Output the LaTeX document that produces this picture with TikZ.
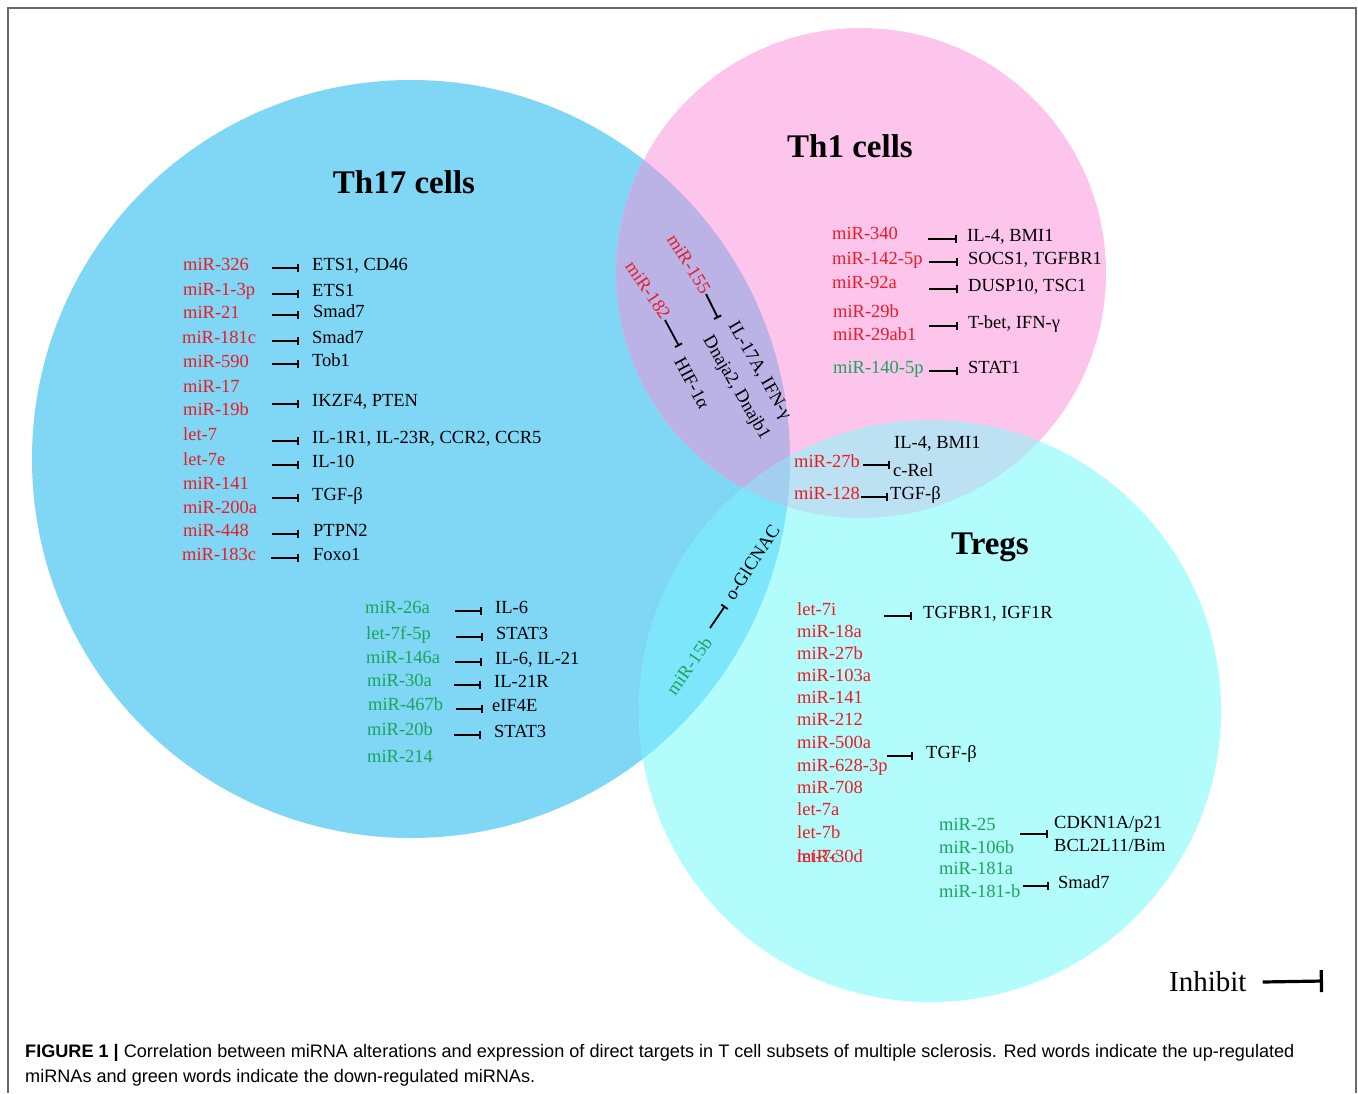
\documentclass[tikz,border=0pt]{standalone}
\usepackage{fontspec}
\setmainfont{Liberation Serif}
\setsansfont{Liberation Sans}
\usetikzlibrary{arrows.meta}
\definecolor{cA}{HTML}{7FD6F5}
\definecolor{cB}{HTML}{FDC4EC}
\definecolor{cC}{HTML}{B2FCFC}
\definecolor{cAB}{HTML}{BBB2E6}
\definecolor{cBC}{HTML}{BBE1F2}
\definecolor{cAC}{HTML}{7DE6FA}
\definecolor{cABC}{HTML}{A3CFEF}
\definecolor{mred}{HTML}{EC1C24}
\definecolor{mgreen}{HTML}{1BA55C}
\definecolor{framec}{HTML}{6A6A6A}
\newcommand\lbl{\fontsize{18.5}{20}\selectfont}
\newcommand\ttl{\fontsize{33}{36}\selectfont\bfseries}
\newcommand\inhto[3]{\draw[inh] ([xshift=-#2pt]#1.mid west) -- ([xshift=-#3pt]#1.mid west);}
\begin{document}
\begin{tikzpicture}[x=1pt,y=-1pt,
  mir/.style={anchor=base west, yshift=-6pt, inner sep=0pt, text=mred, font=\lbl},
  mirg/.style={mir, text=mgreen},
  tgt/.style={anchor=base west, yshift=-6pt, inner sep=0pt, text=black, font=\lbl},
  rot/.style={anchor=center, inner sep=0pt, font=\lbl},
  inh/.style={line width=1.8pt, -{Bar[width=8pt]}},
  title/.style={anchor=base, inner sep=0pt, font=\ttl}]
\useasboundingbox (0,0) rectangle (1358,1093);
\fill[white] (0,0) rectangle (1358,1093);
\draw[framec, line width=1.5pt] (8,1093) -- (8,8) -- (1356,8) -- (1356,1093);
% circles
\coordinate (oA) at (411,459);
\coordinate (oB) at (861,273);
\coordinate (oC) at (930,711);
\fill[cA] (oA) circle[radius=379pt];
\fill[cB] (oB) circle[radius=245pt];
\fill[cC] (oC) circle[radius=291pt];
\begin{scope}\clip (oA) circle[radius=379pt]; \fill[cAB] (oB) circle[radius=245pt]; \end{scope}
\begin{scope}\clip (oB) circle[radius=245pt]; \fill[cBC] (oC) circle[radius=291pt]; \end{scope}
\begin{scope}\clip (oA) circle[radius=379pt]; \fill[cAC] (oC) circle[radius=291pt]; \end{scope}
\begin{scope}\clip (oA) circle[radius=379pt]; \clip (oB) circle[radius=245pt]; \fill[cABC] (oC) circle[radius=291pt]; \end{scope}
% titles
\node[title] (tTh17) at (404,193) {Th17 cells};
\node[title] (tTh1) at (850,157) {Th1 cells};
\node[title] (tTreg) at (990,554) {Tregs};
% Th17 up-regulated
\node[mir] (a1) at (183,264) {miR-326};
\node[tgt] (b1) at (312,264) {ETS1, CD46};
\node[mir] (a2) at (183,289) {miR-1-3p};
\node[tgt] (b2) at (312,290) {ETS1};
\node[mir] (a3) at (183,312) {miR-21};
\node[tgt] (b3) at (313,311) {Smad7};
\node[mir] (a4) at (182,337) {miR-181c};
\node[tgt] (b4) at (312,337) {Smad7};
\node[mir] (a5) at (183,361) {miR-590};
\node[tgt] (b5) at (312,360) {Tob1};
\node[mir] (a6) at (183,386) {miR-17};
\node[mir] (a7) at (183,409) {miR-19b};
\node[tgt] (b6) at (312,400) {IKZF4, PTEN};
\node[mir] (a8) at (183,434) {let-7};
\node[tgt] (b8) at (312,437) {IL-1R1, IL-23R, CCR2, CCR5};
\node[mir] (a9) at (183,459) {let-7e};
\node[tgt] (b9) at (312,461) {IL-10};
\node[mir] (a10) at (183,483) {miR-141};
\node[mir] (a11) at (183,507) {miR-200a};
\node[tgt] (b10) at (312,494) {TGF-β};
\node[mir] (a12) at (183,530) {miR-448};
\node[tgt] (b12) at (313,530) {PTPN2};
\node[mir] (a13) at (182,554) {miR-183c};
\node[tgt] (b13) at (313,554) {Foxo1};
\foreach \t in {b1,b2,b4,b5,b6,b8,b9,b10}{\inhto{\t}{40}{13}}
\inhto{b3}{41}{14}
\inhto{b12}{41}{14}
\inhto{b13}{42}{14}
% Th17 down-regulated
\node[mirg] (g1) at (365,607) {miR-26a};
\node[tgt] (h1) at (495,607) {IL-6};
\node[mirg] (g2) at (366,633) {let-7f-5p};
\node[tgt] (h2) at (496,633) {STAT3};
\node[mirg] (g3) at (366,657) {miR-146a};
\node[tgt] (h3) at (495,658) {IL-6, IL-21};
\node[mirg] (g4) at (367,680) {miR-30a};
\node[tgt] (h4) at (494,681) {IL-21R};
\node[mirg] (g5) at (368,704) {miR-467b};
\node[tgt] (h5) at (492,705) {eIF4E};
\node[mirg] (g6) at (367,729) {miR-20b};
\node[tgt] (h6) at (494,731) {STAT3};
\node[mirg] (g7) at (367,756) {miR-214};
\foreach \t in {h1,h2,h3,h4,h6}{\inhto{\t}{40}{13}}
\inhto{h5}{36}{9}
% Th1
\node[mir] (p1) at (832,233) {miR-340};
\node[tgt] (q1) at (967,235) {IL-4, BMI1};
\node[mir] (p2) at (832,258) {miR-142-5p};
\node[tgt] (q2) at (968,258) {SOCS1, TGFBR1};
\node[mir] (p3) at (832,282) {miR-92a};
\node[tgt] (q3) at (968,285) {DUSP10, TSC1};
\node[mir] (p4) at (833,311) {miR-29b};
\node[mir] (p5) at (833,334) {miR-29ab1};
\node[tgt] (q4) at (968,322) {T-bet, IFN-γ};
\node[mirg] (p6) at (833,367) {miR-140-5p};
\node[tgt] (q6) at (968,367) {STAT1};
\foreach \t in {q1,q2,q3,q4,q6}{\inhto{\t}{39}{10}}
% Th17 & Th1 overlap
\node[rot, text=mred, rotate=-58] (m155) at (689,264) {miR-155};
\node[rot, text=mred, rotate=-56] (m182) at (648,290) {miR-182};
\node[rot, rotate=-60] (x1) at (759,371) {IL-17A, IFN-γ};
\node[rot, rotate=-60] (x2) at (736,388) {Dnaja2, Dnajb1};
\node[rot, rotate=-62] (x3) at (692,383) {HIF-1α};
\coordinate (s155) at (706,294);
\coordinate (e155) at (718,318);
\coordinate (s182) at (665,320);
\coordinate (e182) at (679,346);
\draw[inh] (s155) -- (e155);
\draw[inh] (s182) -- (e182);
% Th17 & Tregs overlap
\node[rot, text=mgreen, rotate=55] (m15b) at (689,666) {miR-15b};
\node[rot, rotate=57] (x4) at (752,562) {o-GlCNAC};
\coordinate (s15b) at (710,628);
\coordinate (e15b) at (725,606);
\draw[inh] (s15b) -- (e15b);
% Th1 & Tregs overlap
\node[mir] (r1) at (794,461) {miR-27b};
\node[tgt] (r2) at (894,442) {IL-4, BMI1};
\node[tgt] (r3) at (893,470) {c-Rel};
\node[mir] (r4) at (794,493) {miR-128};
\node[tgt] (r5) at (890,493) {TGF-β};
\draw[inh] ([xshift=3pt]r1.mid east) -- ++(27pt,0);
\draw[inh] ([xshift=1pt]r4.mid east) -- ([xshift=-2pt]r5.mid west);
% Tregs
\node[mir] (u1) at (797,609) {let-7i};
\node[tgt] (v1) at (923,612) {TGFBR1, IGF1R};
\node[mir] (u2) at (797,631) {miR-18a};
\node[mir] (u3) at (797,653) {miR-27b};
\node[mir] (u4) at (797,675) {miR-103a};
\node[mir] (u5) at (797,697) {miR-141};
\node[mir] (u6) at (797,719) {miR-212};
\node[mir] (u7) at (797,742) {miR-500a};
\node[mir] (u8) at (797,765) {miR-628-3p};
\node[mir] (u9) at (797,787) {miR-708};
\node[mir] (u10) at (797,809) {let-7a};
\node[mir] (u11) at (797,832) {let-7b};
\node[mir] (u12) at (797,856) {let-7c};
\node[mir] (u13) at (797,856) {miR-30d};
\node[tgt] (v7) at (926,752) {TGF-β};
\inhto{v1}{39}{11}
\inhto{v7}{39}{13}
\node[mirg] (w1) at (939,824) {miR-25};
\node[mirg] (w2) at (939,847) {miR-106b};
\node[mirg] (w3) at (939,868) {miR-181a};
\node[mirg] (w4) at (939,891) {miR-181-b};
\node[tgt] (z1) at (1054,822) {CDKN1A/p21};
\node[tgt] (z2) at (1054,845) {BCL2L11/Bim};
\node[tgt] (z3) at (1058,882) {Smad7};
\coordinate (s25) at (1020,834);
\coordinate (e25) at (1048,834);
\draw[inh] (s25) -- (e25);
\inhto{z3}{35}{9}
% legend
\node[anchor=west, inner sep=0pt, font=\fontsize{29}{32}\selectfont] (leg) at (1169,982) {Inhibit};
\coordinate (legE) at (1323,981);
\draw[line width=3.2pt, -{Bar[width=22pt]}] ([xshift=16pt]leg.east) -- (legE);
% caption
\node[anchor=base west, inner sep=0pt, font=\sffamily\fontsize{18.1}{20}\selectfont] (cap1) at (25,1057)
  {\textbf{FIGURE 1 |} Correlation between miRNA alterations and expression of direct targets in T cell subsets of multiple sclerosis. Red words indicate the up-regulated};
\node[anchor=base west, inner sep=0pt, font=\sffamily\fontsize{18.1}{20}\selectfont] (cap2) at (25,1082)
  {miRNAs and green words indicate the down-regulated miRNAs.};
\end{tikzpicture}
\end{document}
